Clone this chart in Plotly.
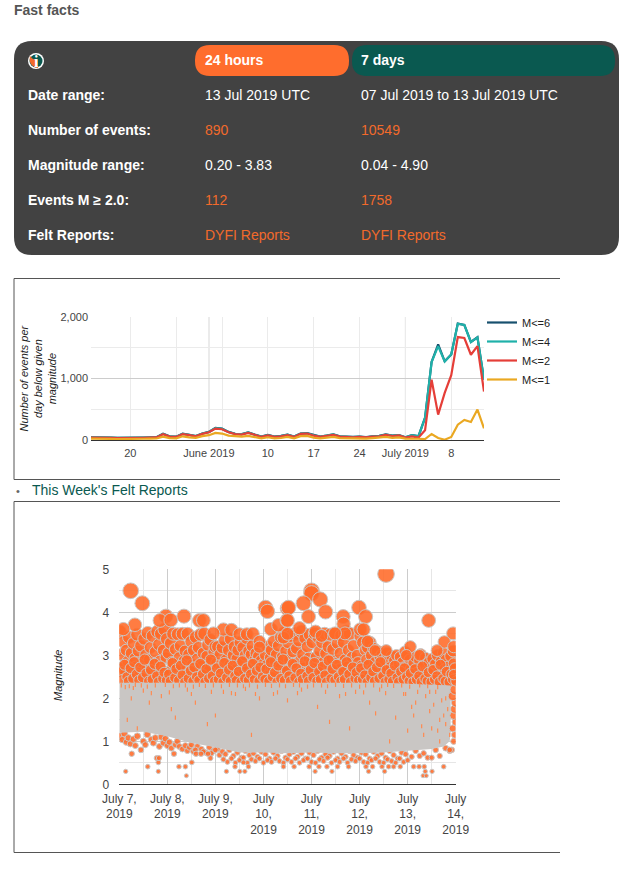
import pandas as pd
import plotly.graph_objects as go

W = 633
H = 882
FONT = "Liberation Sans"

row_labels = ["Date range:", "Number of events:", "Magnitude range:", "Events M ≥ 2.0:", "Felt Reports:"]
day_values = ["13 Jul 2019 UTC", "890", "0.20 - 3.83", "112", "DYFI Reports"]
week_values = ["07 Jul 2019 to 13 Jul 2019 UTC", "10549", "0.04 - 4.90", "1758", "DYFI Reports"]
value_is_orange = [False, True, False, True, True]

rate_dates = pd.date_range("2019-05-14", "2019-07-13")
rate_m6 = [45, 46, 42, 38, 36, 40, 42, 39, 40, 42, 46, 102, 60, 54, 102, 86, 64, 106,
           132, 196, 184, 132, 102, 96, 124, 88, 56, 82, 56, 66, 88, 56, 106, 112, 78, 56, 70, 92, 60,
           52, 50, 56, 46, 60, 66, 90, 72, 80,
           45, 80, 62, 362, 1270, 1554, 1280, 1392, 1892, 1872, 1594, 1670, 985]
rate_m4 = [44, 45, 41, 37, 35, 39, 41, 38, 39, 41, 45, 100, 58, 53, 100, 84, 63, 104,
           130, 192, 181, 130, 100, 94, 122, 86, 55, 80, 55, 65, 86, 55, 104, 110, 76, 55, 68, 90, 58,
           50, 49, 54, 45, 58, 64, 88, 70, 78,
           44, 78, 60, 360, 1266, 1527, 1277, 1391, 1891, 1870, 1592, 1668, 983]
rate_m2 = [40, 42, 38, 35, 32, 36, 38, 35, 36, 38, 42, 95, 55, 50, 95, 80, 60, 100,
           125, 185, 175, 125, 95, 88, 115, 85, 50, 75, 50, 60, 80, 50, 100, 105, 70, 50, 65, 85, 55,
           48, 45, 50, 42, 55, 60, 85, 65, 75,
           40, 60, 40, 158, 980, 413, 766, 1054, 1674, 1658, 1386, 1527, 788]
rate_m1 = [22, 24, 20, 18, 16, 20, 22, 18, 20, 22, 24, 55, 30, 28, 60, 42, 34, 62,
           78, 115, 105, 72, 58, 54, 68, 48, 26, 44, 26, 32, 50, 28, 62, 66, 38, 26, 36, 50, 30,
           26, 24, 30, 22, 30, 34, 50, 36, 42,
           22, 26, 20, 15, 98, 33, 5, 49, 250, 326, 293, 495, 190]
rate_ticks = ["2019-05-20", "2019-05-27", "2019-06-01", "2019-06-03", "2019-06-10", "2019-06-17", "2019-06-24", "2019-07-01", "2019-07-08"]
rate_tick_text = ["20", "", "June 2019", "", "10", "17", "24", "July 2019", "8"]
month_starts = ["2019-06-01", "2019-07-01"]

day_ticks = ["2019-07-07", "2019-07-08", "2019-07-09", "2019-07-10", "2019-07-11", "2019-07-12", "2019-07-13", "2019-07-14"]
day_tick_text = ["July 7,<br>2019", "July 8,<br>2019", "July 9,<br>2019", "July<br>10,<br>2019", "July<br>11,<br>2019",
                 "July<br>12,<br>2019", "July<br>13,<br>2019", "July<br>14,<br>2019"]

# hours since 7 July 00:00, magnitudes
outlier_hours = [5.7, 11.5, 7.8, 2, 23.3, 20.3, 25.7, 32.3, 40, 42, 52, 56, 47, 60, 63.7, 66.7, 73, 74, 75.7, 79.5, 84, 83.7, 82, 70, 70,
                 133.2, 96, 96, 100.3, 92, 84.5, 103, 94.5, 84, 111.8, 112, 119.7, 123, 120.3, 122, 112.7, 107.7, 154.5, 166.7, 162.3, 167,
                 145.3, 133.3, 158.7, 124, 127.7, 150, 143.3, 167, 90, 84, 98, 101]
outlier_mags = [4.5, 4.21, 3.71, 3.61, 3.91, 3.81, 3.82, 3.91, 3.81, 3.81, 3.6, 3.59, 3.51, 3.49, 3.49, 3.5, 4.11, 4.02, 3.61, 3.7, 4.09, 3.81, 3.41, 3.32, 3.19,
                4.89, 4.5, 4.44, 4.3, 4.21, 4.11, 4.01, 3.9, 3.81, 3.9, 3.73, 4.11, 3.9, 3.6, 3.6, 3.51, 3.51, 3.81, 3.51, 3.31, 3.2,
                3.2, 3.11, 3.11, 3.32, 3.11, 3.0, 3.0, 2.81, 3.63, 3.5, 3.55, 3.45]

low_hours = [3.2, 6.2, 10.8, 14.2, 19.5, 19.5, 18.7, 19.8, 27.3, 29.8, 33, 33.5, 36.2, 38.3, 40.8, 45.5, 44.3, 53.5, 57.8, 60.2, 62.7, 64.5, 62,
             82, 87.3, 94.8, 97.8, 99.7, 103.7, 106.2, 109, 114.5, 123.2, 124.5, 126.5, 131.2, 132.5, 134.5, 137, 140.3, 147, 149.7, 152.3, 152.8, 151.7, 153.3, 156.2, 162]
low_mags = [0.3, 0.71, 0.8, 0.41, 0.3, 0.51, 0.61, 0.61, 0.71, 0.41, 0.41, 0.2, 0.51, 0.71, 0.71, 0.61, 0.71, 0.3, 0.41, 0.3, 0.3, 0.41, 0.51,
            0.41, 0.41, 0.41, 0.3, 0.41, 0.41, 0.3, 0.41, 0.41, 0.41, 0.3, 0.41, 0.41, 0.3, 0.41, 0.41, 0.41, 0.41, 0.41, 0.41, 0.3, 0.2, 0.2, 0.3, 0.41]

edge_hours = [166, 167, 167.5, 166.5, 168, 167, 167.5, 168, 166.5, 167.5, 165, 168, 167]
edge_mags = [0.8, 1.0, 1.15, 1.3, 1.45, 1.6, 1.75, 1.9, 2.05, 2.2, 0.8, 2.4, 2.55]

# grey mass where the bubble rings overplot each other
band_hours = [0, 12, 24, 36, 48, 60, 72, 84, 96, 108, 120, 132, 144, 156, 162, 165, 165.5]
band_top = [2.36, 2.36, 2.36, 2.36, 2.36, 2.36, 2.36, 2.36, 2.36, 2.36, 2.36, 2.36, 2.34, 2.32, 2.3, 2.3, 2.3]
band_low = [1.2, 1.22, 1.12, 0.96, 0.86, 0.74, 0.74, 0.72, 0.74, 0.72, 0.72, 0.74, 0.78, 0.82, 0.88, 1.0, 1.2]

fleck_hours = [12, 21, 34, 38, 52, 63, 77, 91, 105, 118, 130, 142, 149, 153, 158, 161, 163, 160, 155, 147, 151, 164, 159, 4, 9, 28, 44, 70, 110, 125, 138, 146, 157, 162,
               6, 15, 26, 48, 58, 66, 84, 99, 115, 128, 135, 152, 156, 160, 148, 144, 163, 165,
               1, 5, 8, 11, 14, 18, 23, 27, 30, 33, 37, 40, 43, 47, 51, 55, 59, 62, 65, 69, 73, 76, 80, 83, 87, 90, 94, 97, 101, 104, 108, 112, 116, 120, 123, 127, 131, 134, 137, 141, 145, 150, 154, 159,
               3, 7, 16, 25, 36, 46, 56, 68, 79, 89, 103, 113, 122, 133, 143, 155]
fleck_mags = [2.18, 2.05, 2.2, 1.9, 2.15, 2.22, 2.1, 2.2, 1.45, 2.15, 2.2, 2.1, 2.15, 2.05, 2.15, 1.95, 2.0, 1.5, 1.7, 1.6, 1.35, 1.75, 1.25, 1.5, 1.3, 1.55, 1.4, 2.0, 2.05, 1.9, 1.55, 1.8, 1.85, 1.6,
              2.0, 1.9, 1.75, 1.6, 2.1, 1.15, 1.95, 1.8, 1.3, 1.65, 1.0, 1.15, 1.3, 1.0, 1.9, 1.25, 1.4, 1.15,
              2.3, 2.28, 2.31, 2.3, 2.27, 2.3, 2.31, 2.28, 2.3, 2.3, 2.27, 2.31, 2.29, 2.3, 2.28, 2.31, 2.3, 2.28, 2.3, 2.27, 2.31, 2.29, 2.3, 2.28, 2.31, 2.3, 2.27, 2.3, 2.3, 2.28, 2.31, 2.29, 2.3, 2.27, 2.3, 2.3, 2.28, 2.31, 2.29, 2.3, 2.27, 2.3, 2.28, 2.26, 2.26, 2.24,
              2.12, 2.14, 2.1, 2.15, 2.12, 2.1, 2.14, 2.12, 2.15, 2.1, 2.14, 2.12, 2.1, 2.15, 2.12, 2.1]

crust_jul07_hours = [0.3, 0.9, 1.4, 2.2, 2.9, 3.5, 4.1, 4.8, 5.3, 5.9, 6.4, 7.1, 7.7, 8.2, 8.9, 9.4, 10.1, 10.7, 11.3, 11.9, 12.4, 13.1, 13.6, 14.2, 14.9, 15.5, 16.1, 16.6, 17.2, 17.9, 18.4, 19, 19.7, 20.2, 20.8, 21.5, 22, 22.6, 23.2, 23.7]
crust_jul07_mags = [3.55, 3.02, 2.71, 3.31, 2.58, 3.12, 2.86, 3.42, 2.64, 3.05, 2.52, 3.28, 2.93, 2.74, 3.48, 3.1, 2.61, 3.22, 2.83, 2.55, 3.38, 3.01, 2.68, 3.52, 2.9, 3.18, 2.62, 3.45, 2.79, 3.08, 2.56, 3.55, 3.25, 2.87, 3.5, 2.66, 3.12, 3.6, 2.95, 3.38]
crust_jul08_hours = [24.4, 25, 25.6, 26.2, 26.9, 27.4, 28, 28.7, 29.2, 29.8, 30.5, 31, 31.6, 32.3, 32.8, 33.4, 34.1, 34.6, 35.2, 35.9, 36.4, 37, 37.7, 38.2, 38.8, 39.5, 40, 40.6, 41.3, 41.8, 42.4, 43.1, 43.6, 44.2, 44.9, 45.4, 46, 46.7, 47.2, 47.8]
crust_jul08_mags = [3.05, 2.62, 3.28, 2.84, 3.5, 2.55, 3.14, 2.72, 3.49, 2.95, 3.22, 2.6, 3.5, 2.88, 3.1, 2.68, 3.5, 3.02, 2.53, 3.32, 2.79, 3.12, 2.64, 3.42, 2.92, 3.18, 2.57, 3.48, 2.76, 3.05, 3.5, 2.63, 2.98, 3.24, 2.7, 3.36, 2.86, 2.54, 3.08, 3.2]
crust_jul09_hours = [48.5, 49.1, 49.7, 50.2, 50.9, 51.4, 52, 52.7, 53.2, 53.8, 54.5, 55, 55.6, 56.3, 56.8, 57.4, 58.1, 58.6, 59.2, 59.9, 60.4, 61, 61.7, 62.2, 62.8, 63.5, 64, 64.6, 65.3, 65.8, 66.4, 67.1, 67.6, 68.2, 68.9, 69.4, 70.1, 70.7, 71.2, 71.8]
crust_jul09_mags = [2.82, 3.2, 2.58, 3.02, 2.7, 3.18, 2.54, 3.35, 2.9, 2.64, 3.12, 2.78, 3.38, 2.56, 3.0, 3.2, 2.68, 2.92, 3.12, 2.55, 3.3, 2.82, 3.18, 2.62, 3.0, 3.4, 2.74, 3.1, 2.58, 3.02, 3.22, 2.68, 2.9, 3.05, 2.56, 2.98, 2.72, 2.88, 2.6, 2.8]
crust_jul10_hours = [72.3, 72.9, 73.5, 74.1, 74.8, 75.3, 75.9, 76.6, 77.1, 77.7, 78.4, 78.9, 79.5, 80.2, 80.7, 81.3, 82, 82.5, 83.1, 83.8, 84.3, 84.9, 85.6, 86.1, 86.7, 87.4, 87.9, 88.5, 89.2, 89.7, 90.3, 91, 91.5, 92.1, 92.8, 93.3, 93.9, 94.6, 95.1, 95.7]
crust_jul10_mags = [2.6, 3.0, 2.78, 3.2, 2.55, 2.94, 3.12, 2.68, 3.32, 2.86, 3.02, 2.58, 3.22, 2.74, 3.42, 2.96, 2.62, 3.52, 3.1, 2.7, 3.3, 2.9, 3.45, 2.56, 3.08, 2.78, 3.5, 3.16, 2.64, 3.34, 2.88, 3.55, 3.02, 2.72, 3.4, 2.6, 3.2, 2.94, 3.48, 2.82]
crust_jul11_hours = [96.4, 97, 97.6, 98.2, 98.9, 99.4, 100, 100.7, 101.2, 101.8, 102.5, 103, 103.6, 104.3, 104.8, 105.4, 106.1, 106.6, 107.2, 107.9, 108.4, 109, 109.7, 110.2, 110.8, 111.5, 112, 112.6, 113.3, 113.8, 114.4, 115.1, 115.6, 116.2, 116.9, 117.4, 118, 118.7, 119.2, 119.8]
crust_jul11_mags = [3.3, 2.7, 3.5, 2.96, 2.58, 3.42, 3.1, 2.66, 3.3, 2.84, 3.5, 3.04, 2.6, 3.2, 2.76, 3.48, 2.92, 3.14, 2.55, 3.5, 2.82, 3.28, 2.68, 3.05, 3.46, 2.6, 3.3, 2.9, 3.55, 2.74, 3.12, 3.5, 2.62, 2.96, 3.22, 2.7, 2.52, 3.0, 2.84, 2.62]
crust_jul12_hours = [120.4, 121, 121.6, 122.2, 122.9, 123.4, 124, 124.7, 125.2, 125.8, 126.5, 127, 127.6, 128.3, 128.8, 129.4, 130.1, 130.6, 131.2, 131.9, 132.4, 133, 133.7, 134.2, 134.8, 135.5, 136, 136.6, 137.3, 137.8, 138.4, 139.1, 139.6, 140.2, 140.9, 141.4, 142, 142.7, 143.2, 143.8]
crust_jul12_mags = [3.45, 2.76, 3.3, 2.62, 3.12, 2.9, 3.18, 2.56, 3.3, 3.0, 2.7, 3.16, 2.84, 2.58, 3.1, 2.72, 2.96, 2.55, 3.02, 2.68, 2.86, 2.62, 3.05, 2.52, 2.9, 2.74, 2.98, 2.56, 2.88, 2.66, 3.0, 2.52, 2.8, 2.96, 2.6, 2.84, 2.72, 3.08, 2.55, 3.0]
crust_jul13_hours = [144.4, 145, 145.6, 146.2, 146.9, 147.4, 148, 148.7, 149.2, 149.8, 150.5, 151, 151.6, 152.3, 152.8, 153.4, 154.1, 154.6, 155.2, 155.9, 156.4, 157, 157.7, 158.2, 158.8, 159.5, 160, 160.6, 161.3, 161.8, 162.4, 163.1, 163.6, 164.2, 164.9, 165.4, 166, 166.7, 167.2, 167.8]
crust_jul13_mags = [2.54, 2.9, 2.7, 2.5, 2.82, 2.44, 2.96, 2.6, 2.42, 2.88, 3.02, 2.5, 2.76, 2.4, 2.94, 2.62, 2.46, 2.84, 2.38, 2.7, 2.92, 2.5, 2.8, 2.36, 3.0, 2.62, 2.4, 2.86, 2.52, 3.05, 2.68, 2.9, 2.38, 2.74, 2.5, 2.98, 2.6, 3.1, 2.42, 2.76]
crust_hours = [crust_jul07_hours, crust_jul08_hours, crust_jul09_hours, crust_jul10_hours, crust_jul11_hours, crust_jul12_hours, crust_jul13_hours]
crust_mags = [crust_jul07_mags, crust_jul08_mags, crust_jul09_mags, crust_jul10_mags, crust_jul11_mags, crust_jul12_mags, crust_jul13_mags]

skirt_hours = [0.6, 1.7, 2.6, 3.8, 4.5, 5.6, 6.7, 7.4, 8.6, 9.7, 10.4, 11.6, 12.7, 13.4, 14.6, 15.7, 16.4, 17.6, 18.7, 19.4, 20.6, 21.7, 22.4, 23.5,
               24.7, 25.4, 26.6, 27.7, 28.4, 29.6, 30.7, 31.4, 32.6, 33.7, 34.4, 35.6, 36.7, 37.4, 38.6, 39.7, 40.4, 41.6, 42.7, 43.4, 44.6, 45.7, 46.4, 47.5,
               48.7, 49.4, 50.6, 51.7, 52.4, 53.6, 54.7, 55.4, 56.6, 57.7, 58.4, 59.6, 60.7, 61.4, 62.6, 63.7, 64.4, 65.6, 66.7, 67.4, 68.6, 69.7, 70.4, 71.5,
               72.7, 73.4, 74.6, 75.7, 76.4, 77.6, 78.7, 79.4, 80.6, 81.7, 82.4, 83.6, 84.7, 85.4, 86.6, 87.7, 88.4, 89.6, 90.7, 91.4, 92.6, 93.7, 94.4, 95.5,
               96.7, 97.4, 98.6, 99.7, 100.4, 101.6, 102.7, 103.4, 104.6, 105.7, 106.4, 107.6, 108.7, 109.4, 110.6, 111.7, 112.4, 113.6, 114.7, 115.4, 116.6, 117.7, 118.4, 119.5,
               120.7, 121.4, 122.6, 123.7, 124.4, 125.6, 126.7, 127.4, 128.6, 129.7, 130.4, 131.6, 132.7, 133.4, 134.6, 135.7, 136.4, 137.6, 138.7, 139.4, 140.6, 141.7, 142.4, 143.5,
               144.7, 145.4, 146.6, 147.7, 148.4, 149.6, 150.7, 151.4, 152.6, 153.7, 154.4, 155.6, 156.7, 157.4, 158.6, 159.7, 160.4, 161.6, 162.7, 163.4, 164.6, 165.7, 166.4, 167.5]
skirt_mags = [2.62, 2.44, 2.78, 2.5, 2.4, 2.7, 2.46, 2.84, 2.56, 2.42, 2.72, 2.48, 2.9, 2.58, 2.4, 2.66, 2.44, 2.8, 2.52, 2.38, 2.74, 2.46, 2.6, 2.42,
              2.56, 2.4, 2.82, 2.48, 2.68, 2.42, 2.76, 2.54, 2.38, 2.88, 2.46, 2.64, 2.4, 2.72, 2.5, 2.42, 2.8, 2.56, 2.38, 2.68, 2.46, 2.9, 2.52, 2.4,
              2.7, 2.44, 2.58, 2.38, 2.82, 2.48, 2.66, 2.4, 2.76, 2.52, 2.42, 2.62, 2.38, 2.86, 2.46, 2.7, 2.42, 2.56, 2.8, 2.44, 2.64, 2.4, 2.72, 2.5,
              2.44, 2.68, 2.4, 2.84, 2.5, 2.6, 2.38, 2.76, 2.46, 2.9, 2.42, 2.64, 2.52, 2.4, 2.8, 2.48, 2.7, 2.38, 2.58, 2.44, 2.86, 2.52, 2.4, 2.66,
              2.48, 2.82, 2.4, 2.62, 2.44, 2.74, 2.54, 2.38, 2.88, 2.46, 2.68, 2.42, 2.78, 2.5, 2.4, 2.62, 2.44, 2.84, 2.56, 2.38, 2.72, 2.46, 2.6, 2.42,
              2.7, 2.44, 2.54, 2.38, 2.78, 2.48, 2.62, 2.4, 2.72, 2.46, 2.84, 2.52, 2.38, 2.66, 2.44, 2.58, 2.4, 2.76, 2.48, 2.38, 2.62, 2.44, 2.7, 2.5,
              2.4, 2.58, 2.38, 2.68, 2.44, 2.52, 2.38, 2.74, 2.46, 2.4, 2.6, 2.38, 2.66, 2.44, 2.52, 2.38, 2.78, 2.46, 2.4, 2.62, 2.38, 2.56, 2.44, 2.7]

fringe_hours = [0.5, 1.5, 2.5, 3.5, 4.5, 5.5, 7, 8, 9, 12, 13, 14, 16, 17, 18, 20, 21, 22, 23, 24, 25, 26, 28, 29, 30, 31.5, 33, 34, 35, 36, 37, 39, 41, 43, 45, 47, 49,
                38, 42, 46, 48, 50, 51.5, 53, 55, 57, 59, 61, 63, 65, 67, 69, 71, 73, 75, 77, 79, 81, 83, 85, 87, 89, 91, 93, 95, 97, 99, 101, 103, 105, 107, 109, 111, 113, 115, 117, 119, 121, 123, 125, 127, 129, 131, 133, 135, 137, 139, 141, 143, 146, 148, 150, 152, 154, 158, 163, 165,
                52, 54, 56, 58, 60, 62, 64, 66, 68, 70, 72, 74, 76, 78, 80, 82, 84, 86, 88, 90, 92, 94, 96, 98, 100, 102, 104, 106, 108, 110, 112, 114, 116, 118, 120, 122, 124, 126, 128, 130, 132, 134, 136, 138, 140, 142, 144, 156, 160]
fringe_mags = [1.12, 1.04, 1.18, 0.98, 1.08, 0.94, 1.05, 0.9, 1.12, 1.0, 0.92, 1.16, 1.04, 0.96, 1.08, 0.88, 1.1, 0.96, 1.06, 0.9, 0.98, 0.84, 0.92, 1.0, 0.88, 0.82, 0.9, 0.78, 0.86, 0.92, 0.76, 0.88, 0.82, 0.74, 0.86, 0.78, 0.82,
               0.8, 0.76, 0.72, 0.8, 0.68, 0.76, 0.7, 0.8, 0.66, 0.74, 0.62, 0.78, 0.68, 0.72, 0.64, 0.76, 0.7, 0.6, 0.74, 0.66, 0.78, 0.62, 0.7, 0.76, 0.64, 0.72, 0.6, 0.74, 0.68, 0.78, 0.62, 0.7, 0.66, 0.76, 0.6, 0.72, 0.64, 0.78, 0.68, 0.62, 0.74, 0.7, 0.6, 0.76, 0.66, 0.72, 0.62, 0.78, 0.68, 0.6, 0.74, 0.7, 0.64, 0.78, 0.66, 0.72, 0.62, 0.8, 0.84, 0.78,
               0.58, 0.52, 0.6, 0.5, 0.56, 0.62, 0.5, 0.58, 0.54, 0.6, 0.5, 0.56, 0.52, 0.6, 0.54, 0.5, 0.58, 0.52, 0.6, 0.5, 0.56, 0.6, 0.52, 0.5, 0.58, 0.54, 0.62, 0.5, 0.56, 0.52, 0.6, 0.5, 0.58, 0.54, 0.6, 0.52, 0.5, 0.56, 0.6, 0.52, 0.5, 0.58, 0.54, 0.5, 0.6, 0.52, 0.56, 0.62, 0.66]


def px(x):
    return x / W


def py(y):
    return 1 - y / H


def hours_to_dates(hours):
    return pd.Timestamp("2019-07-07") + pd.to_timedelta(hours, unit="h")


def bubble_sizes(mags):
    return [3.5 + 2.7 * m for m in mags]


def rounded_box(x0, y0, x1, y1, r, color):
    rx = r / W
    ry = r / H
    left, right, top, bottom = px(x0), px(x1), py(y0), py(y1)
    path = (f"M {left + rx},{top} L {right - rx},{top} Q {right},{top} {right},{top - ry} "
            f"L {right},{bottom + ry} Q {right},{bottom} {right - rx},{bottom} "
            f"L {left + rx},{bottom} Q {left},{bottom} {left},{bottom + ry} "
            f"L {left},{top - ry} Q {left},{top} {left + rx},{top} Z")
    return dict(type="path", xref="paper", yref="paper", path=path, fillcolor=color, line_width=0, layer="below")


def label(x, y, text, color="#ffffff", size=14, bold=False, italic=False, angle=0, anchor="left", family=FONT):
    if bold:
        text = f"<b>{text}</b>"
    if italic:
        text = f"<i>{text}</i>"
    return dict(x=px(x), y=py(y), xref="paper", yref="paper", text=text, showarrow=False, xanchor=anchor, yanchor="middle",
                align="center", textangle=angle, borderpad=0, font=dict(family=family, size=size, color=color))


def frame_line(x0, y0, x1, y1):
    return dict(type="line", xref="paper", yref="paper", x0=px(x0), y0=py(y0), x1=px(x1), y1=py(y1), line=dict(color="#555555", width=1))


fig = go.Figure()

line_series = [("M<=6", rate_m6, "#17506e"), ("M<=4", rate_m4, "#1fb1a9"), ("M<=2", rate_m2, "#e53e38"), ("M<=1", rate_m1, "#eaa822")]
for name, values, color in line_series:
    fig.add_trace(go.Scatter(x=rate_dates, y=values, name=name, mode="lines", line=dict(color=color, width=2.2), xaxis="x", yaxis="y"))

BUBBLE = "rgba(255,106,40,0.88)"
RING = "#c9c6c4"


def add_bubbles(hours, mags):
    fig.add_trace(go.Scatter(x=hours_to_dates(hours), y=mags, mode="markers", showlegend=False, xaxis="x2", yaxis="y2",
                             marker=dict(size=bubble_sizes(mags), opacity=1, color=BUBBLE, line=dict(color=RING, width=1))))


add_bubbles(fringe_hours, fringe_mags)
add_bubbles(low_hours, low_mags)

for hours, mags in zip(crust_hours, crust_mags):
    add_bubbles(hours, mags)
add_bubbles(outlier_hours, outlier_mags)
add_bubbles(skirt_hours, skirt_mags)

fig.add_trace(go.Scatter(x=hours_to_dates(band_hours), y=band_low, mode="lines", line=dict(color=RING, width=0), showlegend=False, xaxis="x2", yaxis="y2"))
fig.add_trace(go.Scatter(x=hours_to_dates(band_hours), y=band_top, mode="lines", line=dict(color=RING, width=0), fill="tonexty", fillcolor=RING, showlegend=False, xaxis="x2", yaxis="y2"))
fig.add_trace(go.Scatter(x=hours_to_dates(fleck_hours), y=fleck_mags, mode="markers", showlegend=False, xaxis="x2", yaxis="y2",
                         marker=dict(symbol="line-ns", size=3, line=dict(color="#ff8a50", width=1.2))))
add_bubbles(edge_hours, edge_mags)

shapes = [
    rounded_box(14, 41, 619, 255, 18, "#424242"),
    rounded_box(195, 45, 349, 76, 15, "#ff6d2d"),
    rounded_box(352, 45, 615, 76, 15, "#0a5950"),
    frame_line(14, 278.5, 560, 278.5),
    frame_line(14, 278.5, 14, 479.5),
    frame_line(14, 479.5, 560, 479.5),
    frame_line(14, 501.5, 560, 501.5),
    frame_line(14, 501.5, 14, 852.5),
    frame_line(14, 852.5, 560, 852.5),
    dict(type="circle", xref="paper", yref="paper", x0=px(28), x1=px(44), y0=py(53), y1=py(69), fillcolor="#ffffff", line_width=0, layer="above"),
    dict(type="circle", xref="paper", yref="paper", x0=px(29.5), x1=px(42.5), y0=py(54.5), y1=py(67.5), fillcolor="#0a5950", line_width=0, layer="above"),
    dict(type="path", xref="paper", yref="paper", fillcolor="#f26a2b", line_width=0, layer="above",
         path=f"M {px(30)},{py(56)} Q {px(28)},{py(66)} {px(38)},{py(68)} L {px(38)},{py(60)} L {px(33)},{py(59)} Z"),
]
for day in month_starts:
    shapes.append(dict(type="line", xref="x", yref="y domain", x0=day, x1=day, y0=0, y1=1, line=dict(color="#cccccc", width=1), layer="below"))

annotations = [
    label(13, 10, "Fast facts", color="#555555", bold=True),
    label(204, 60, "24 hours", bold=True),
    label(360, 60, "7 days", bold=True),
    label(36, 61, "i", size=16, bold=True, anchor="center", family="Liberation Serif"),
    label(15, 491, "•", color="#666666", size=11),
    label(31, 490, "This Week's Felt Reports", color="#0a5950"),
    label(37.5, 378, "Number of events per<br>day below given<br>magnitude", color="#222222", size=11, italic=True, angle=-90, anchor="center"),
    label(58, 676, "Magnitude", color="#222222", size=11, italic=True, angle=-90, anchor="center"),
]
for i, row_y in enumerate([95, 130, 165, 200, 235]):
    annotations.append(label(27, row_y, row_labels[i], bold=True))
    value_color = "#f26a2b" if value_is_orange[i] else "#ffffff"
    annotations.append(label(204, row_y, day_values[i], color=value_color))
    annotations.append(label(360, row_y, week_values[i], color=value_color))

fig.update_layout(
    width=W,
    height=H,
    margin=dict(l=0, r=0, t=0, b=0, autoexpand=False),
    paper_bgcolor="#ffffff",
    plot_bgcolor="#ffffff",
    font=dict(family=FONT, size=11, color="#444444"),
    shapes=shapes,
    annotations=annotations,
    legend=dict(x=px(482), y=py(308), xanchor="left", yanchor="top", traceorder="normal", tracegroupgap=0, bgcolor="rgba(0,0,0,0)", font=dict(family=FONT, size=11, color="#222222")),
    xaxis=dict(domain=[px(91), px(484)], anchor="y", type="date", range=["2019-05-14", "2019-07-13"], tickmode="array", tickvals=rate_ticks, ticktext=rate_tick_text,
               gridcolor="#ebebeb", showline=True, linecolor="#333333", zeroline=False, tickangle=0, ticks="", ticklabelstandoff=3, tickfont=dict(size=11, color="#444444")),
    yaxis=dict(domain=[py(440), py(317)], anchor="x", range=[0, 2000], tickmode="array", tickvals=[0, 1000, 2000], ticktext=["0", "1,000", "2,000"], ticklabelstandoff=2,
               gridcolor="#cccccc", zeroline=False, minor=dict(dtick=500, showgrid=True, gridcolor="#ebebeb"), tickfont=dict(size=11, color="#444444")),
    xaxis2=dict(domain=[px(119.3), px(455.7)], anchor="y2", type="date", range=["2019-07-07", "2019-07-14"], tickmode="array", tickvals=day_ticks, ticktext=day_tick_text,
                gridcolor="#cccccc", showline=True, linecolor="#333333", zeroline=False, tickangle=0, ticks="", ticklabelstandoff=3, tickfont=dict(size=12, color="#444444"),
                minor=dict(dtick=43200000, showgrid=True, gridcolor="#e6e6e6")),
    yaxis2=dict(domain=[py(784.3), py(569.3)], anchor="x2", range=[0, 5], dtick=1, gridcolor="#cccccc", zeroline=False, ticklabelstandoff=9,
                minor=dict(dtick=0.5, showgrid=True, gridcolor="#e6e6e6"), tickfont=dict(size=12, color="#444444")),
)

fig.write_html("out.html", config=dict(displayModeBar=False), post_script="document.body.style.margin='0';")
